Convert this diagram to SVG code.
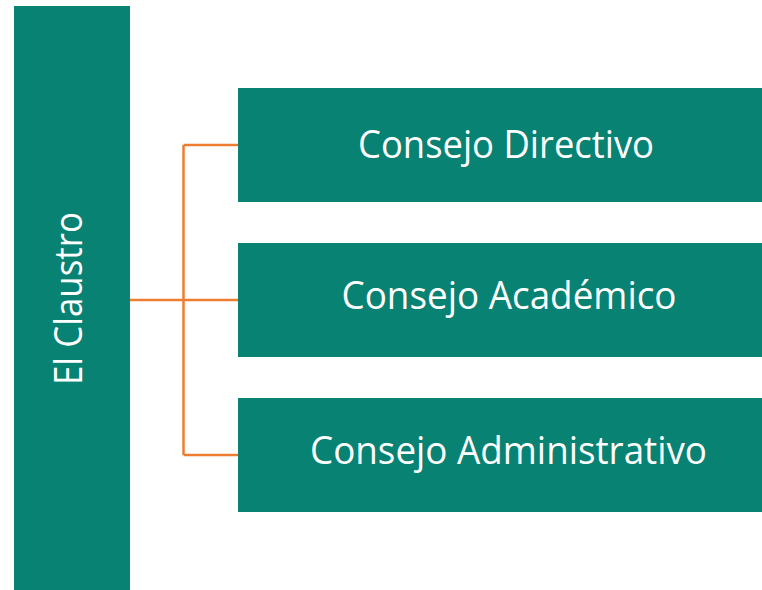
<svg xmlns="http://www.w3.org/2000/svg" width="762" height="590" viewBox="0 0 762 590">
<style>
.box{fill:#078273}
.lbl{fill:#ffffff;font-family:"Open Sans","Liberation Sans",sans-serif;font-size:39px}
.conn{stroke:#ED7D31;stroke-width:2.5;fill:none}
</style>
<rect width="762" height="590" fill="#ffffff"/>
<g id="connectors">
<path class="conn" d="M130,300 H183.5 M183.5,145 V455 M183.5,145 H238 M183.5,300 H238 M183.5,455 H238"/>
</g>
<g id="el-claustro">
<rect class="box" x="14" y="6" width="116" height="584"/>
<text class="lbl" transform="translate(82,298.5) rotate(-90)" text-anchor="middle" font-size="35" textLength="173" lengthAdjust="spacingAndGlyphs">El Claustro</text>
</g>
<g id="consejo-directivo">
<rect class="box" x="238" y="88" width="524" height="114"/>
<text class="lbl" x="506" y="158" text-anchor="middle" textLength="296" lengthAdjust="spacingAndGlyphs">Consejo Directivo</text>
</g>
<g id="consejo-academico">
<rect class="box" x="238" y="243" width="524" height="114"/>
<text class="lbl" x="509" y="309" text-anchor="middle" textLength="335" lengthAdjust="spacingAndGlyphs">Consejo Académico</text>
</g>
<g id="consejo-administrativo">
<rect class="box" x="238" y="398" width="524" height="114"/>
<text class="lbl" x="508.5" y="464" text-anchor="middle" textLength="397" lengthAdjust="spacingAndGlyphs">Consejo Administrativo</text>
</g>
</svg>
